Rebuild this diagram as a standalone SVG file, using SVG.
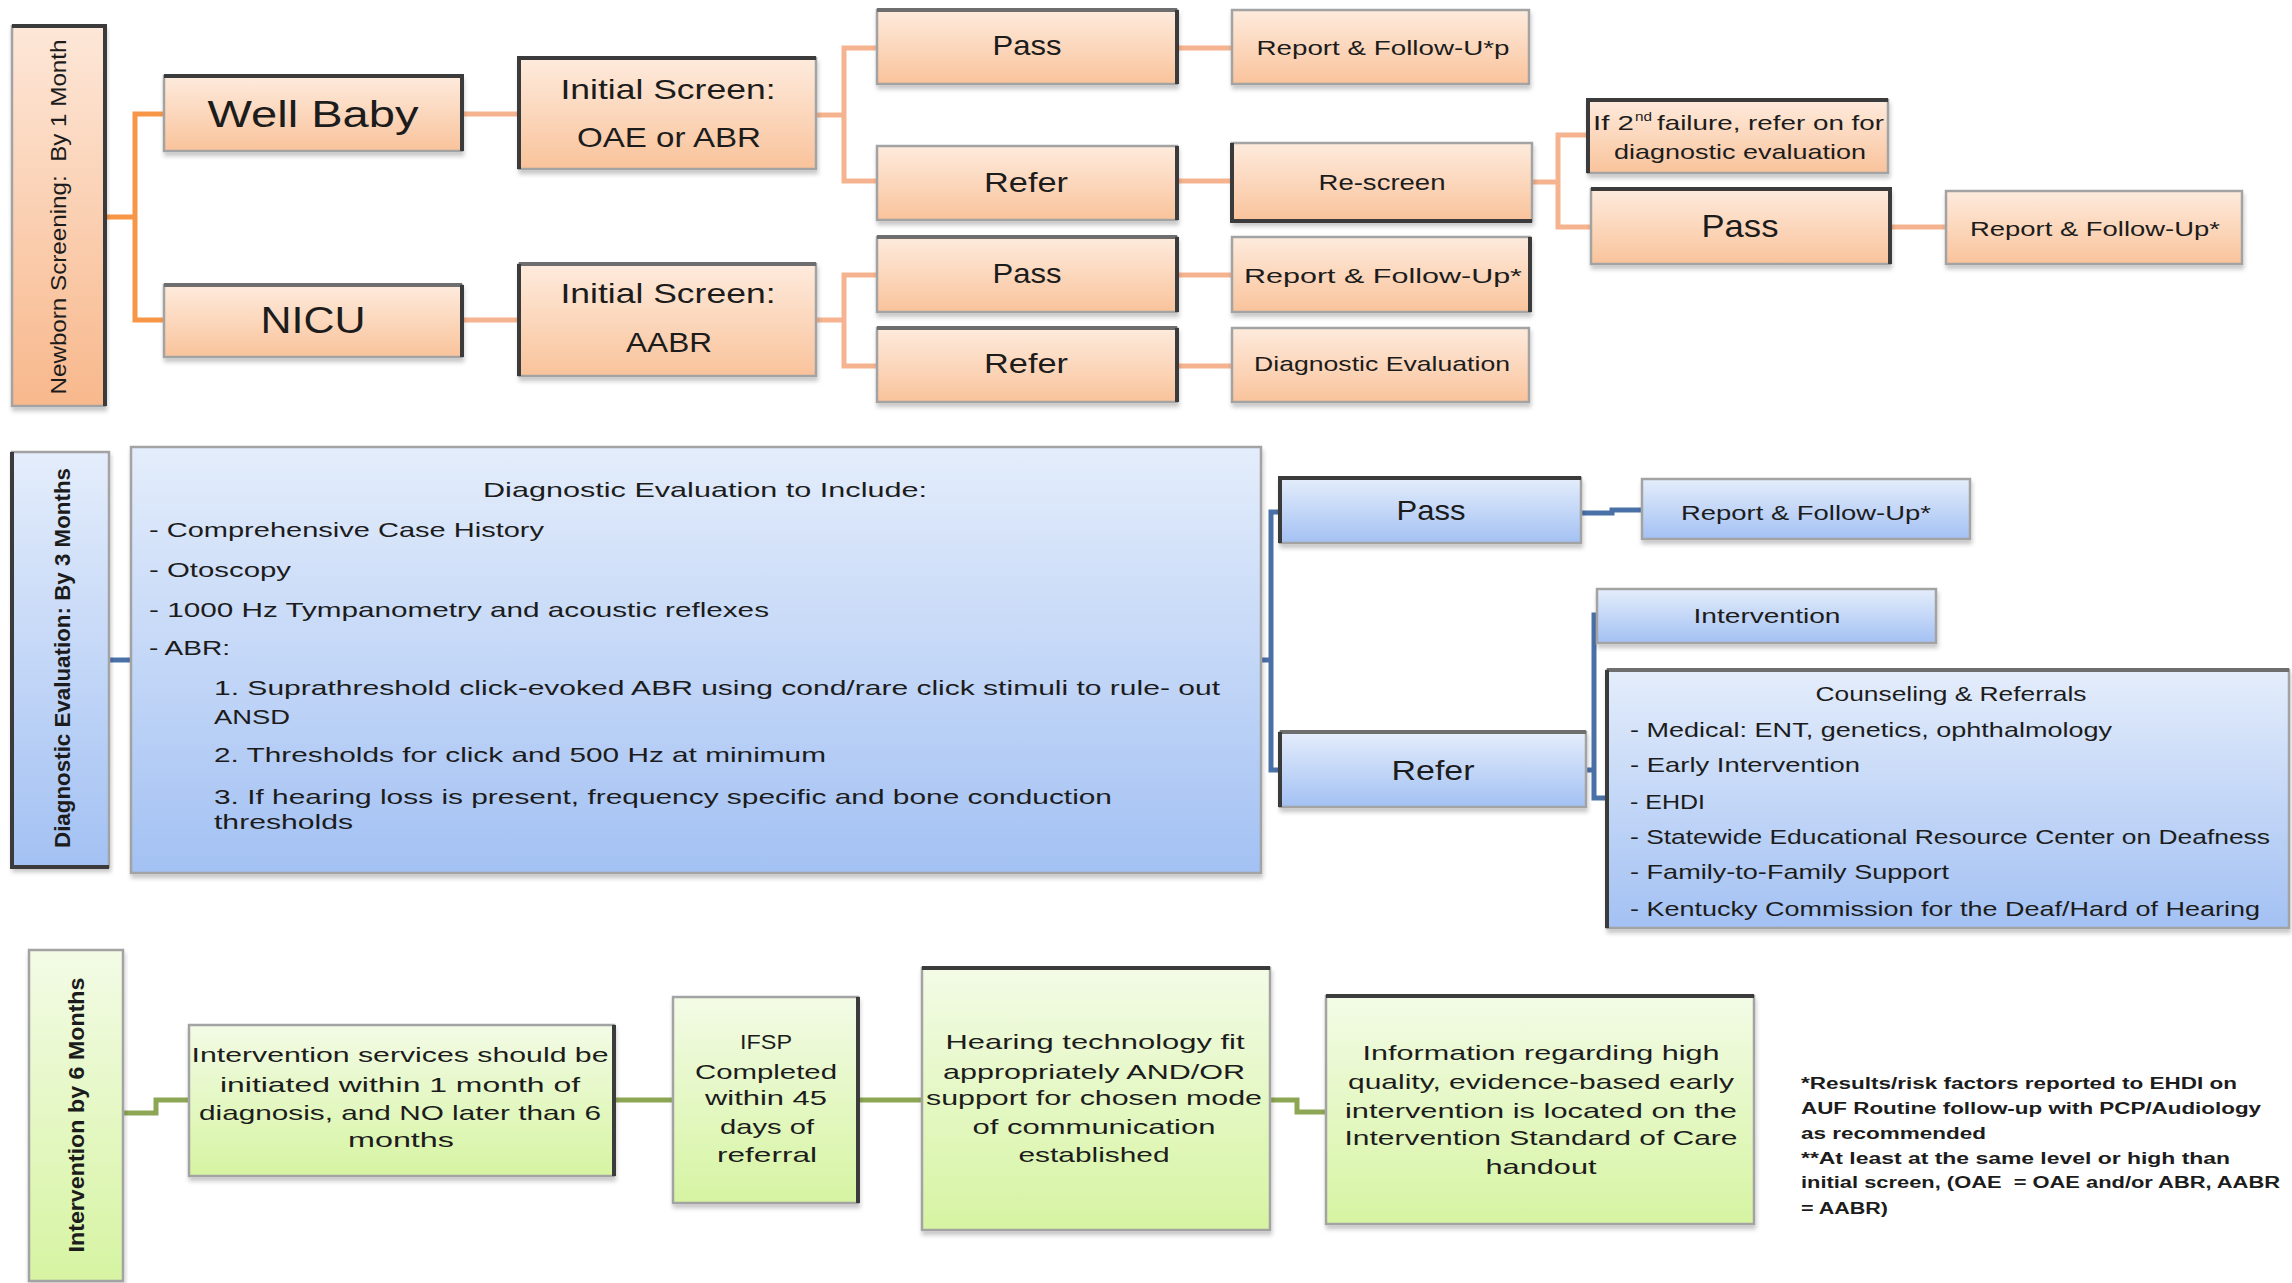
<svg xmlns="http://www.w3.org/2000/svg" width="2292" height="1283" viewBox="0 0 2292 1283">
<defs>
<linearGradient id="gO" x1="0" y1="0" x2="0" y2="1"><stop offset="0" stop-color="#FEEBDD"/><stop offset="1" stop-color="#F9C39B"/></linearGradient>
<linearGradient id="gOs" x1="0" y1="0" x2="0" y2="1"><stop offset="0" stop-color="#FDE7D8"/><stop offset="1" stop-color="#F8B88C"/></linearGradient>
<linearGradient id="gB" x1="0" y1="0" x2="0" y2="1"><stop offset="0" stop-color="#E4EDFB"/><stop offset="1" stop-color="#A3C1F3"/></linearGradient>
<linearGradient id="gG" x1="0" y1="0" x2="0" y2="1"><stop offset="0" stop-color="#F3FBE6"/><stop offset="1" stop-color="#D6F4A2"/></linearGradient>
<filter id="sh" x="-5%" y="-5%" width="110%" height="120%"><feDropShadow dx="1" dy="4" stdDeviation="2" flood-color="#000" flood-opacity="0.22"/></filter>
</defs>
<style>
.bx{stroke:#a3a3a3;stroke-width:2.5;filter:url(#sh)}
.o{fill:url(#gO)} .os{fill:url(#gOs)} .b{fill:url(#gB)} .g{fill:url(#gG)}
.dk{stroke:#3b3b3b;stroke-width:4;fill:none}
.md{stroke:#6e6e6e;stroke-width:4;fill:none}
text{font-family:"Liberation Sans",Arial,sans-serif;fill:#1c1c1c}
.c{text-anchor:middle}
.f36{font-size:36px}.f32{font-size:32px}.f28{font-size:28px}.f22{font-size:22px}.f21{font-size:21px}.f16{font-size:16px}
.bd{font-weight:bold}
.lo{stroke:#F79646;stroke-width:5;fill:none}
.lo2{stroke:#F6B38F;stroke-width:5;fill:none}
.lb{stroke:#4A70A8;stroke-width:5;fill:none}
.lg{stroke:#8DA654;stroke-width:5;fill:none}
</style>

<g id="connectors">
<path class="lo" d="M105 217 H135 M164 114 H135 V320 H164"/>
<path class="lo2" d="M462 114 H519 M462 320 H519"/>
<path class="lo2" d="M816 115 H844 M877 48 H844 V181 H877"/>
<path class="lo2" d="M1177 48 H1232 M1177 181 H1232"/>
<path class="lo2" d="M816 320 H844 M877 275 H844 V366 H877"/>
<path class="lo2" d="M1177 275 H1232 M1177 366 H1232"/>
<path class="lo2" d="M1532 182 H1558 M1588 135 H1558 V227 H1591"/>
<path class="lo2" d="M1890 227 H1946"/>
<path class="lb" d="M109 660 H131"/>
<path class="lb" d="M1261 660 H1271 M1280 512 H1271 V770 H1280"/>
<path class="lb" d="M1581 513 H1612 V510 H1642"/>
<path class="lb" d="M1586 770 H1594 M1597 615 H1594 V798 H1607"/>
<path class="lg" d="M124 1113 H156 V1100 H189"/>
<path class="lg" d="M614 1100 H673 M858 1100 H922"/>
<path class="lg" d="M1270 1100 H1297 V1112 H1326"/>
</g>

<g id="newborn-side">
<rect class="bx os" x="12" y="26" width="93" height="380"/>
<path class="dk" d="M12 26 H105 V406"/>
<text class="f22 c" xml:space="preserve" transform="translate(66,217) rotate(-90)" textLength="355" lengthAdjust="spacingAndGlyphs">Newborn Screening:  By 1 Month</text>
</g>
<g id="well-baby">
<rect class="bx o" x="164" y="76" width="298" height="75"/>
<path class="dk" d="M164 76 H462 V151"/>
<text class="f36 c" x="313" y="127" textLength="211" lengthAdjust="spacingAndGlyphs">Well Baby</text>
</g>
<g id="nicu">
<rect class="bx o" x="164" y="285" width="298" height="72"/>
<path class="md" d="M164 285 H462"/><path class="dk" d="M462 285 V357"/>
<text class="f36 c" x="313" y="333" textLength="105" lengthAdjust="spacingAndGlyphs">NICU</text>
</g>
<g id="initial-oae">
<rect class="bx o" x="519" y="58" width="297" height="111"/>
<path class="dk" d="M519 169 V58 H816"/>
<text class="f28 c" x="668" y="99" textLength="215" lengthAdjust="spacingAndGlyphs">Initial Screen:</text>
<text class="f28 c" x="669" y="147" textLength="184" lengthAdjust="spacingAndGlyphs">OAE or ABR</text>
</g>
<g id="initial-aabr">
<rect class="bx o" x="519" y="264" width="297" height="112"/>
<path class="md" d="M519 264 H816"/><path class="dk" d="M519 264 V376"/>
<text class="f28 c" x="668" y="303" textLength="215" lengthAdjust="spacingAndGlyphs">Initial Screen:</text>
<text class="f28 c" x="669" y="352" textLength="86" lengthAdjust="spacingAndGlyphs">AABR</text>
</g>
<g id="pass-1">
<rect class="bx o" x="877" y="10" width="300" height="74"/>
<path class="md" d="M877 10 H1177"/><path class="dk" d="M1177 10 V84"/>
<text class="f28 c" x="1027" y="55" textLength="69" lengthAdjust="spacingAndGlyphs">Pass</text>
</g>
<g id="report-1">
<rect class="bx o" x="1232" y="10" width="297" height="74"/>
<text class="f21 c" x="1383" y="55" textLength="253" lengthAdjust="spacingAndGlyphs">Report &amp; Follow-U*p</text>
</g>
<g id="refer-1">
<rect class="bx o" x="877" y="146" width="300" height="74"/>
<path class="dk" d="M1177 146 V220"/>
<text class="f28 c" x="1026" y="192" textLength="84" lengthAdjust="spacingAndGlyphs">Refer</text>
</g>
<g id="rescreen">
<rect class="bx o" x="1232" y="143" width="300" height="78"/>
<path class="dk" d="M1232 143 V221 H1532"/>
<text class="f22 c" x="1382" y="190" textLength="127" lengthAdjust="spacingAndGlyphs">Re-screen</text>
</g>
<g id="pass-2">
<rect class="bx o" x="877" y="237" width="300" height="75"/>
<path class="md" d="M877 237 H1177"/><path class="dk" d="M1177 237 V312"/>
<text class="f28 c" x="1027" y="283" textLength="69" lengthAdjust="spacingAndGlyphs">Pass</text>
</g>
<g id="report-2">
<rect class="bx o" x="1232" y="237" width="298" height="75"/>
<path class="dk" d="M1530 237 V312"/>
<text class="f21 c" x="1383" y="283" textLength="278" lengthAdjust="spacingAndGlyphs">Report &amp; Follow-Up*</text>
</g>
<g id="refer-2">
<rect class="bx o" x="877" y="328" width="300" height="74"/>
<path class="md" d="M877 328 H1177"/><path class="dk" d="M1177 328 V402"/>
<text class="f28 c" x="1026" y="373" textLength="84" lengthAdjust="spacingAndGlyphs">Refer</text>
</g>
<g id="diag-eval">
<rect class="bx o" x="1232" y="328" width="297" height="74"/>
<text class="f21 c" x="1382" y="371" textLength="256" lengthAdjust="spacingAndGlyphs">Diagnostic Evaluation</text>
</g>
<g id="second-failure">
<rect class="bx o" x="1588" y="100" width="300" height="73"/>
<path class="dk" d="M1588 173 V100 H1888"/>
<text class="f21" x="1593" y="130" textLength="41" lengthAdjust="spacingAndGlyphs">If 2</text>
<text x="1635" y="121" style="font-size:13px" textLength="17" lengthAdjust="spacingAndGlyphs">nd</text>
<text class="f21" x="1657" y="130" textLength="227" lengthAdjust="spacingAndGlyphs">failure, refer on for</text>
<text class="f21 c" x="1740" y="159" textLength="252" lengthAdjust="spacingAndGlyphs">diagnostic evaluation</text>
</g>
<g id="pass-3">
<rect class="bx o" x="1591" y="189" width="299" height="75"/>
<path class="dk" d="M1591 189 H1890 V264"/>
<text class="f32 c" x="1740" y="237" textLength="77" lengthAdjust="spacingAndGlyphs">Pass</text>
</g>
<g id="report-3">
<rect class="bx o" x="1946" y="191" width="296" height="73"/>
<text class="f21 c" x="2095" y="236" textLength="250" lengthAdjust="spacingAndGlyphs">Report &amp; Follow-Up*</text>
</g>

<g id="diag-side">
<rect class="bx b" x="12" y="452" width="97" height="415"/>
<path class="dk" d="M12 452 V867 H109"/>
<text class="f22 bd c" transform="translate(70,658) rotate(-90)" textLength="380" lengthAdjust="spacingAndGlyphs">Diagnostic Evaluation: By 3 Months</text>
</g>
<g id="diag-main">
<rect class="bx b" x="131" y="447" width="1130" height="426"/>
<text class="f21 c" x="705" y="497" textLength="444" lengthAdjust="spacingAndGlyphs">Diagnostic Evaluation to Include:</text>
<text class="f21" x="149" y="537" textLength="395" lengthAdjust="spacingAndGlyphs">- Comprehensive Case History</text>
<text class="f21" x="149" y="577" textLength="142" lengthAdjust="spacingAndGlyphs">- Otoscopy</text>
<text class="f21" x="149" y="617" textLength="620" lengthAdjust="spacingAndGlyphs">- 1000 Hz Tympanometry and acoustic reflexes</text>
<text class="f21" x="149" y="655" textLength="81" lengthAdjust="spacingAndGlyphs">- ABR:</text>
<text class="f21" x="214" y="695" textLength="1006" lengthAdjust="spacingAndGlyphs">1. Suprathreshold click-evoked ABR using cond/rare click stimuli to rule- out</text>
<text class="f21" x="214" y="724" textLength="76" lengthAdjust="spacingAndGlyphs">ANSD</text>
<text class="f21" x="214" y="762" textLength="612" lengthAdjust="spacingAndGlyphs">2. Thresholds for click and 500 Hz at minimum</text>
<text class="f21" x="214" y="804" textLength="898" lengthAdjust="spacingAndGlyphs">3. If hearing loss is present, frequency specific and bone conduction</text>
<text class="f21" x="214" y="829" textLength="139" lengthAdjust="spacingAndGlyphs">thresholds</text>
</g>
<g id="pass-blue">
<rect class="bx b" x="1280" y="478" width="301" height="65"/>
<path class="dk" d="M1280 543 V478 H1581"/>
<text class="f28 c" x="1431" y="520" textLength="69" lengthAdjust="spacingAndGlyphs">Pass</text>
</g>
<g id="report-blue">
<rect class="bx b" x="1642" y="479" width="328" height="60"/>
<text class="f21 c" x="1806" y="520" textLength="250" lengthAdjust="spacingAndGlyphs">Report &amp; Follow-Up*</text>
</g>
<g id="intervention">
<rect class="bx b" x="1597" y="589" width="339" height="54"/>
<text class="f21 c" x="1767" y="623" textLength="147" lengthAdjust="spacingAndGlyphs">Intervention</text>
</g>
<g id="refer-blue">
<rect class="bx b" x="1280" y="732" width="306" height="75"/>
<path class="md" d="M1280 732 H1586"/><path class="dk" d="M1280 732 V807"/>
<text class="f28 c" x="1433" y="780" textLength="83" lengthAdjust="spacingAndGlyphs">Refer</text>
</g>
<g id="counseling">
<rect class="bx b" x="1607" y="670" width="682" height="258"/>
<path class="md" d="M1607 670 H2289"/><path class="dk" d="M1607 670 V928"/>
<text class="f21 c" x="1951" y="701" textLength="271" lengthAdjust="spacingAndGlyphs">Counseling &amp; Referrals</text>
<text class="f21" x="1630" y="737" textLength="482" lengthAdjust="spacingAndGlyphs">- Medical: ENT, genetics, ophthalmology</text>
<text class="f21" x="1630" y="772" textLength="230" lengthAdjust="spacingAndGlyphs">- Early Intervention</text>
<text class="f21" x="1630" y="809" textLength="75" lengthAdjust="spacingAndGlyphs">- EHDI</text>
<text class="f21" x="1630" y="844" textLength="640" lengthAdjust="spacingAndGlyphs">- Statewide Educational Resource Center on Deafness</text>
<text class="f21" x="1630" y="879" textLength="319" lengthAdjust="spacingAndGlyphs">- Family-to-Family Support</text>
<text class="f21" x="1630" y="916" textLength="630" lengthAdjust="spacingAndGlyphs">- Kentucky Commission for the Deaf/Hard of Hearing</text>
</g>

<g id="intervention-side">
<rect class="bx g" x="29" y="950" width="94" height="331"/>
<text class="f22 bd c" transform="translate(84,1115) rotate(-90)" textLength="275" lengthAdjust="spacingAndGlyphs">Intervention by 6 Months</text>
</g>
<g id="services">
<rect class="bx g" x="189" y="1025" width="425" height="151"/>
<path class="dk" d="M614 1025 V1176"/>
<text class="f21 c" x="400" y="1062" textLength="417" lengthAdjust="spacingAndGlyphs">Intervention services should be</text>
<text class="f21 c" x="400" y="1092" textLength="360" lengthAdjust="spacingAndGlyphs">initiated within 1 month of</text>
<text class="f21 c" x="400" y="1120" textLength="402" lengthAdjust="spacingAndGlyphs">diagnosis, and NO later than 6</text>
<text class="f21 c" x="401" y="1147" textLength="106" lengthAdjust="spacingAndGlyphs">months</text>
</g>
<g id="ifsp">
<rect class="bx g" x="673" y="997" width="185" height="206"/>
<path class="dk" d="M858 997 V1203"/>
<text class="f21 c" x="766" y="1049" textLength="52" lengthAdjust="spacingAndGlyphs">IFSP</text>
<text class="f21 c" x="766" y="1079" textLength="142" lengthAdjust="spacingAndGlyphs">Completed</text>
<text class="f21 c" x="766" y="1105" textLength="122" lengthAdjust="spacingAndGlyphs">within 45</text>
<text class="f21 c" x="767" y="1134" textLength="94" lengthAdjust="spacingAndGlyphs">days of</text>
<text class="f21 c" x="767" y="1162" textLength="100" lengthAdjust="spacingAndGlyphs">referral</text>
</g>
<g id="hearing-tech">
<rect class="bx g" x="922" y="968" width="348" height="262"/>
<path class="dk" d="M922 968 H1270"/>
<text class="f21 c" x="1095" y="1049" textLength="299" lengthAdjust="spacingAndGlyphs">Hearing technology fit</text>
<text class="f21 c" x="1094" y="1079" textLength="302" lengthAdjust="spacingAndGlyphs">appropriately AND/OR</text>
<text class="f21 c" x="1094" y="1105" textLength="336" lengthAdjust="spacingAndGlyphs">support for chosen mode</text>
<text class="f21 c" x="1094" y="1134" textLength="243" lengthAdjust="spacingAndGlyphs">of communication</text>
<text class="f21 c" x="1094" y="1162" textLength="151" lengthAdjust="spacingAndGlyphs">established</text>
</g>
<g id="information">
<rect class="bx g" x="1326" y="996" width="428" height="228"/>
<path class="dk" d="M1326 996 H1754"/>
<text class="f21 c" x="1541" y="1060" textLength="357" lengthAdjust="spacingAndGlyphs">Information regarding high</text>
<text class="f21 c" x="1541" y="1089" textLength="386" lengthAdjust="spacingAndGlyphs">quality, evidence-based early</text>
<text class="f21 c" x="1541" y="1118" textLength="392" lengthAdjust="spacingAndGlyphs">intervention is located on the</text>
<text class="f21 c" x="1541" y="1145" textLength="393" lengthAdjust="spacingAndGlyphs">Intervention Standard of Care</text>
<text class="f21 c" x="1541" y="1174" textLength="111" lengthAdjust="spacingAndGlyphs">handout</text>
</g>
<g id="footnote">
<text class="f16 bd" x="1801" y="1089" textLength="436" lengthAdjust="spacingAndGlyphs">*Results/risk factors reported to EHDI on</text>
<text class="f16 bd" x="1801" y="1114" textLength="460" lengthAdjust="spacingAndGlyphs">AUF Routine follow-up with PCP/Audiology</text>
<text class="f16 bd" x="1801" y="1139" textLength="185" lengthAdjust="spacingAndGlyphs">as recommended</text>
<text class="f16 bd" x="1801" y="1164" textLength="429" lengthAdjust="spacingAndGlyphs">**At least at the same level or high than</text>
<text class="f16 bd" xml:space="preserve" x="1801" y="1188" textLength="479" lengthAdjust="spacingAndGlyphs">initial screen, (OAE  = OAE and/or ABR, AABR</text>
<text class="f16 bd" x="1801" y="1214" textLength="87" lengthAdjust="spacingAndGlyphs">= AABR)</text>
</g>
</svg>
